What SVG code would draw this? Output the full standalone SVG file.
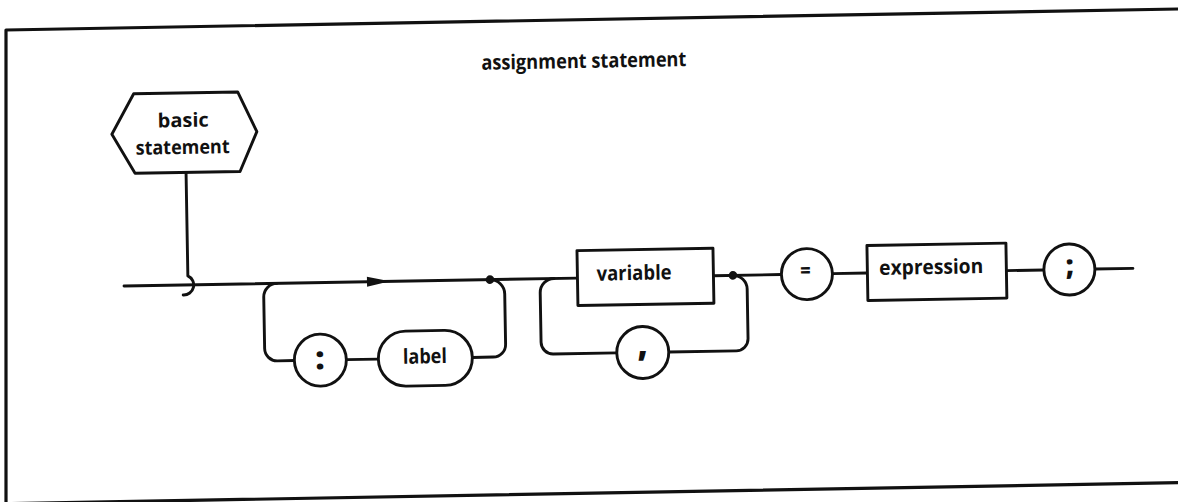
<svg xmlns="http://www.w3.org/2000/svg" width="1178" height="502" viewBox="0 0 1178 502">
<style>
.ln{fill:none;stroke:#111;stroke-width:2.9;stroke-linejoin:round;stroke-linecap:round}
.nd{fill:#fff;stroke:#111;stroke-width:2.9;stroke-linejoin:round}
.t{font-family:"Open Sans","DejaVu Sans",sans-serif;font-weight:700;font-size:20.5px;fill:#111;text-anchor:middle}
.p{font-family:"Open Sans","DejaVu Sans",sans-serif;font-weight:800;fill:#111;text-anchor:middle}
.dot{fill:#111}
</style>
<rect width="1178" height="502" fill="#fff"/>
<g id="frame">
<path class="ln" style="stroke-width:3.2" d="M1178,9 L6,30 V502"/>
<path class="ln" style="stroke-width:3.2" d="M6,503.7 L1178,482.7"/>
</g>
<g transform="rotate(-1 640 280)">
<g id="title"><text class="t" x="587.7" y="67" textLength="205" lengthAdjust="spacingAndGlyphs">assignment statement</text></g>
<g id="connectors">
<path class="ln" d="M188,164.5 V268 A10,10 0 0 1 183,287"/>
<path class="ln" d="M124,277 H577.5 M713.5,277 H781.5 M832.5,277 H867.5 M1006.5,277 H1044 M1095,277 H1133"/>
<path class="ln" d="M277,277 A13.5,13.5 0 0 0 263.5,290.5 V342 A12.5,12.5 0 0 0 276,354.5 H293 M345,354.5 H377 M471,354.5 H492 A12.5,12.5 0 0 0 504.5,342 V291.5 A14.5,14.5 0 0 0 490,277"/>
<path class="ln" d="M554,277 A14,14 0 0 0 540,291 V340.5 A12,12 0 0 0 552,352.5 H615.5 M667.5,352.5 H735 A12,12 0 0 0 747,340.5 V291 A14,14 0 0 0 733,277"/>
<polygon class="dot" points="367,272 390,277 367,282"/>
<circle class="dot" cx="490" cy="277" r="4.3"/>
<circle class="dot" cx="733" cy="277" r="4.3"/>
</g>
<g id="n-basic-statement">
<polygon class="nd" points="114.5,125 137,85 241,85 259.5,125 242,164.5 137,164.5"/>
<text class="t" x="186" y="119" style="font-size:19.5px" textLength="51" lengthAdjust="spacingAndGlyphs">basic</text>
<text class="t" x="185" y="146" style="font-size:19.5px" textLength="94" lengthAdjust="spacingAndGlyphs">statement</text>
</g>
<g id="n-colon">
<circle class="nd" cx="319" cy="354.5" r="26"/>
<text class="p" x="318.5" y="363.5" style="font-size:32px">:</text>
</g>
<g id="n-label">
<rect class="nd" x="377" y="327" width="94" height="55" rx="27.5"/>
<text class="t" x="423.6" y="359.6" textLength="44" lengthAdjust="spacingAndGlyphs">label</text>
</g>
<g id="n-variable">
<rect class="nd" x="577.5" y="249.5" width="136" height="55"/>
<text class="t" x="634.2" y="279.9" textLength="75" lengthAdjust="spacingAndGlyphs">variable</text>
</g>
<g id="n-comma">
<circle class="nd" cx="641.5" cy="352.5" r="26"/>
<text class="p" x="641.5" y="356" style="font-size:34px">,</text>
</g>
<g id="n-equals">
<circle class="nd" cx="807" cy="277" r="25.5"/>
<text class="p" x="805.5" y="279.5" style="font-size:18px">=</text>
</g>
<g id="n-expression">
<rect class="nd" x="867.5" y="249.5" width="139" height="55"/>
<text class="t" x="931.4" y="279.1" textLength="104" lengthAdjust="spacingAndGlyphs">expression</text>
</g>
<g id="n-semicolon">
<circle class="nd" cx="1069.5" cy="277" r="25.5"/>
<text class="p" x="1070" y="282.5" style="font-size:28px">;</text>
</g>
</g>
</svg>
